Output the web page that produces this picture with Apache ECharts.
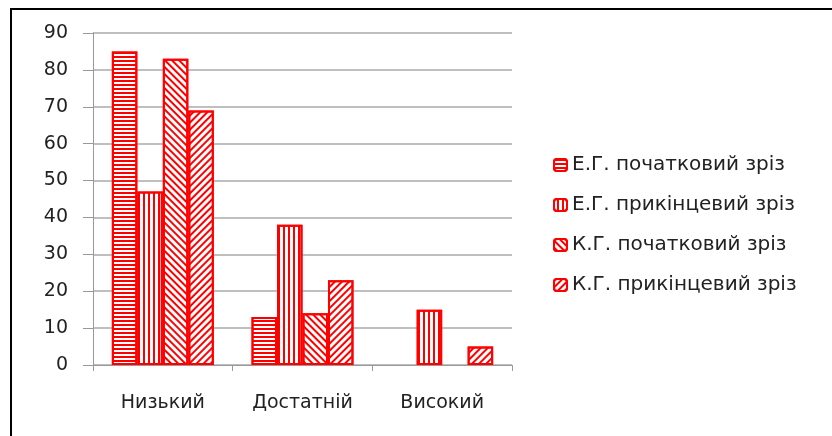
<!DOCTYPE html>
<html lang="uk">
<head>
  <meta charset="utf-8">
  <title>Рівні</title>
  <script src="https://cdn.jsdelivr.net/npm/echarts@6/dist/echarts.min.js"></script>
  <style>
    html, body, #chart { width: 100%; height: 100%; margin: 0; padding: 0; overflow: hidden; background: #fff; }
  </style>
</head>
<body>
  <div id="chart"></div>
  <script>
    // дані з рисунка
    var categories = ['Низький', 'Достатній', 'Високий'];
    var seriesNames = ['Е.Г. початковий зріз', 'Е.Г. прикінцевий зріз', 'К.Г. початковий зріз', 'К.Г. прикінцевий зріз'];
    var egStart = [85, 13, 0];
    var egEnd = [47, 38, 15];
    var kgStart = [83, 14, 0];
    var kgEnd = [69, 23, 5];
    var yTicks = [0, 10, 20, 30, 40, 50, 60, 70, 80, 90];

    var font = 'DejaVu Sans';
    var red = '#ff0000';

    // штрихування кожного ряду
    var decals = [
      { symbol: 'rect', symbolSize: 1, color: red, dashArrayX: [1, 0], dashArrayY: [2, 2], rotation: 0 },
      { symbol: 'rect', symbolSize: 1, color: red, dashArrayX: [1, 0], dashArrayY: [2, 3], rotation: Math.PI / 2 },
      { symbol: 'rect', symbolSize: 1, color: red, dashArrayX: [1, 0], dashArrayY: [2, 3], rotation: Math.PI / 4 },
      { symbol: 'rect', symbolSize: 1, color: red, dashArrayX: [1, 0], dashArrayY: [2, 3], rotation: -Math.PI / 4 }
    ];

    function makeSeries(i, data) {
      return {
        name: seriesNames[i],
        type: 'bar',
        data: data.map(function (v) { return v === 0 ? null : v; }),
        barGap: '0%',
        barCategoryGap: '27%',
        itemStyle: { color: '#ffffff', borderColor: red, borderWidth: 2, decal: decals[i] }
      };
    }

    var chart = echarts.init(document.getElementById('chart'));
    chart.setOption({
      animation: false,
      aria: { enabled: true, decal: { show: true } },
      graphic: [{
        type: 'rect',
        shape: { x: 11, y: 9, width: 900, height: 600 },
        style: { fill: 'none', stroke: '#000', lineWidth: 2 },
        silent: true
      }],
      legend: {
        orient: 'vertical',
        left: 548,
        top: 150,
        itemWidth: 13,
        itemHeight: 12,
        itemGap: 20,
        textStyle: { fontFamily: font, fontSize: 20, color: '#222' },
        data: seriesNames
      },
      grid: { left: 93, right: 320, top: 33, bottom: 71, containLabel: false },
      xAxis: {
        type: 'category',
        data: categories,
        axisLine: { lineStyle: { color: '#999', width: 1 } },
        axisTick: { show: true, length: 6, lineStyle: { color: '#999' } },
        axisLabel: { fontFamily: font, fontSize: 19, color: '#222', margin: 29 }
      },
      yAxis: {
        type: 'value',
        min: yTicks[0],
        max: yTicks[yTicks.length - 1],
        interval: 10,
        axisLine: { show: true, lineStyle: { color: '#999' } },
        axisTick: { show: true, length: 10, lineStyle: { color: '#999' } },
        splitLine: { lineStyle: { color: '#aaa', width: 1.5 } },
        axisLabel: { fontFamily: font, fontSize: 19, color: '#222', margin: 25 }
      },
      series: [
        makeSeries(0, egStart),
        makeSeries(1, egEnd),
        makeSeries(2, kgStart),
        makeSeries(3, kgEnd)
      ]
    });
  </script>
</body>
</html>
